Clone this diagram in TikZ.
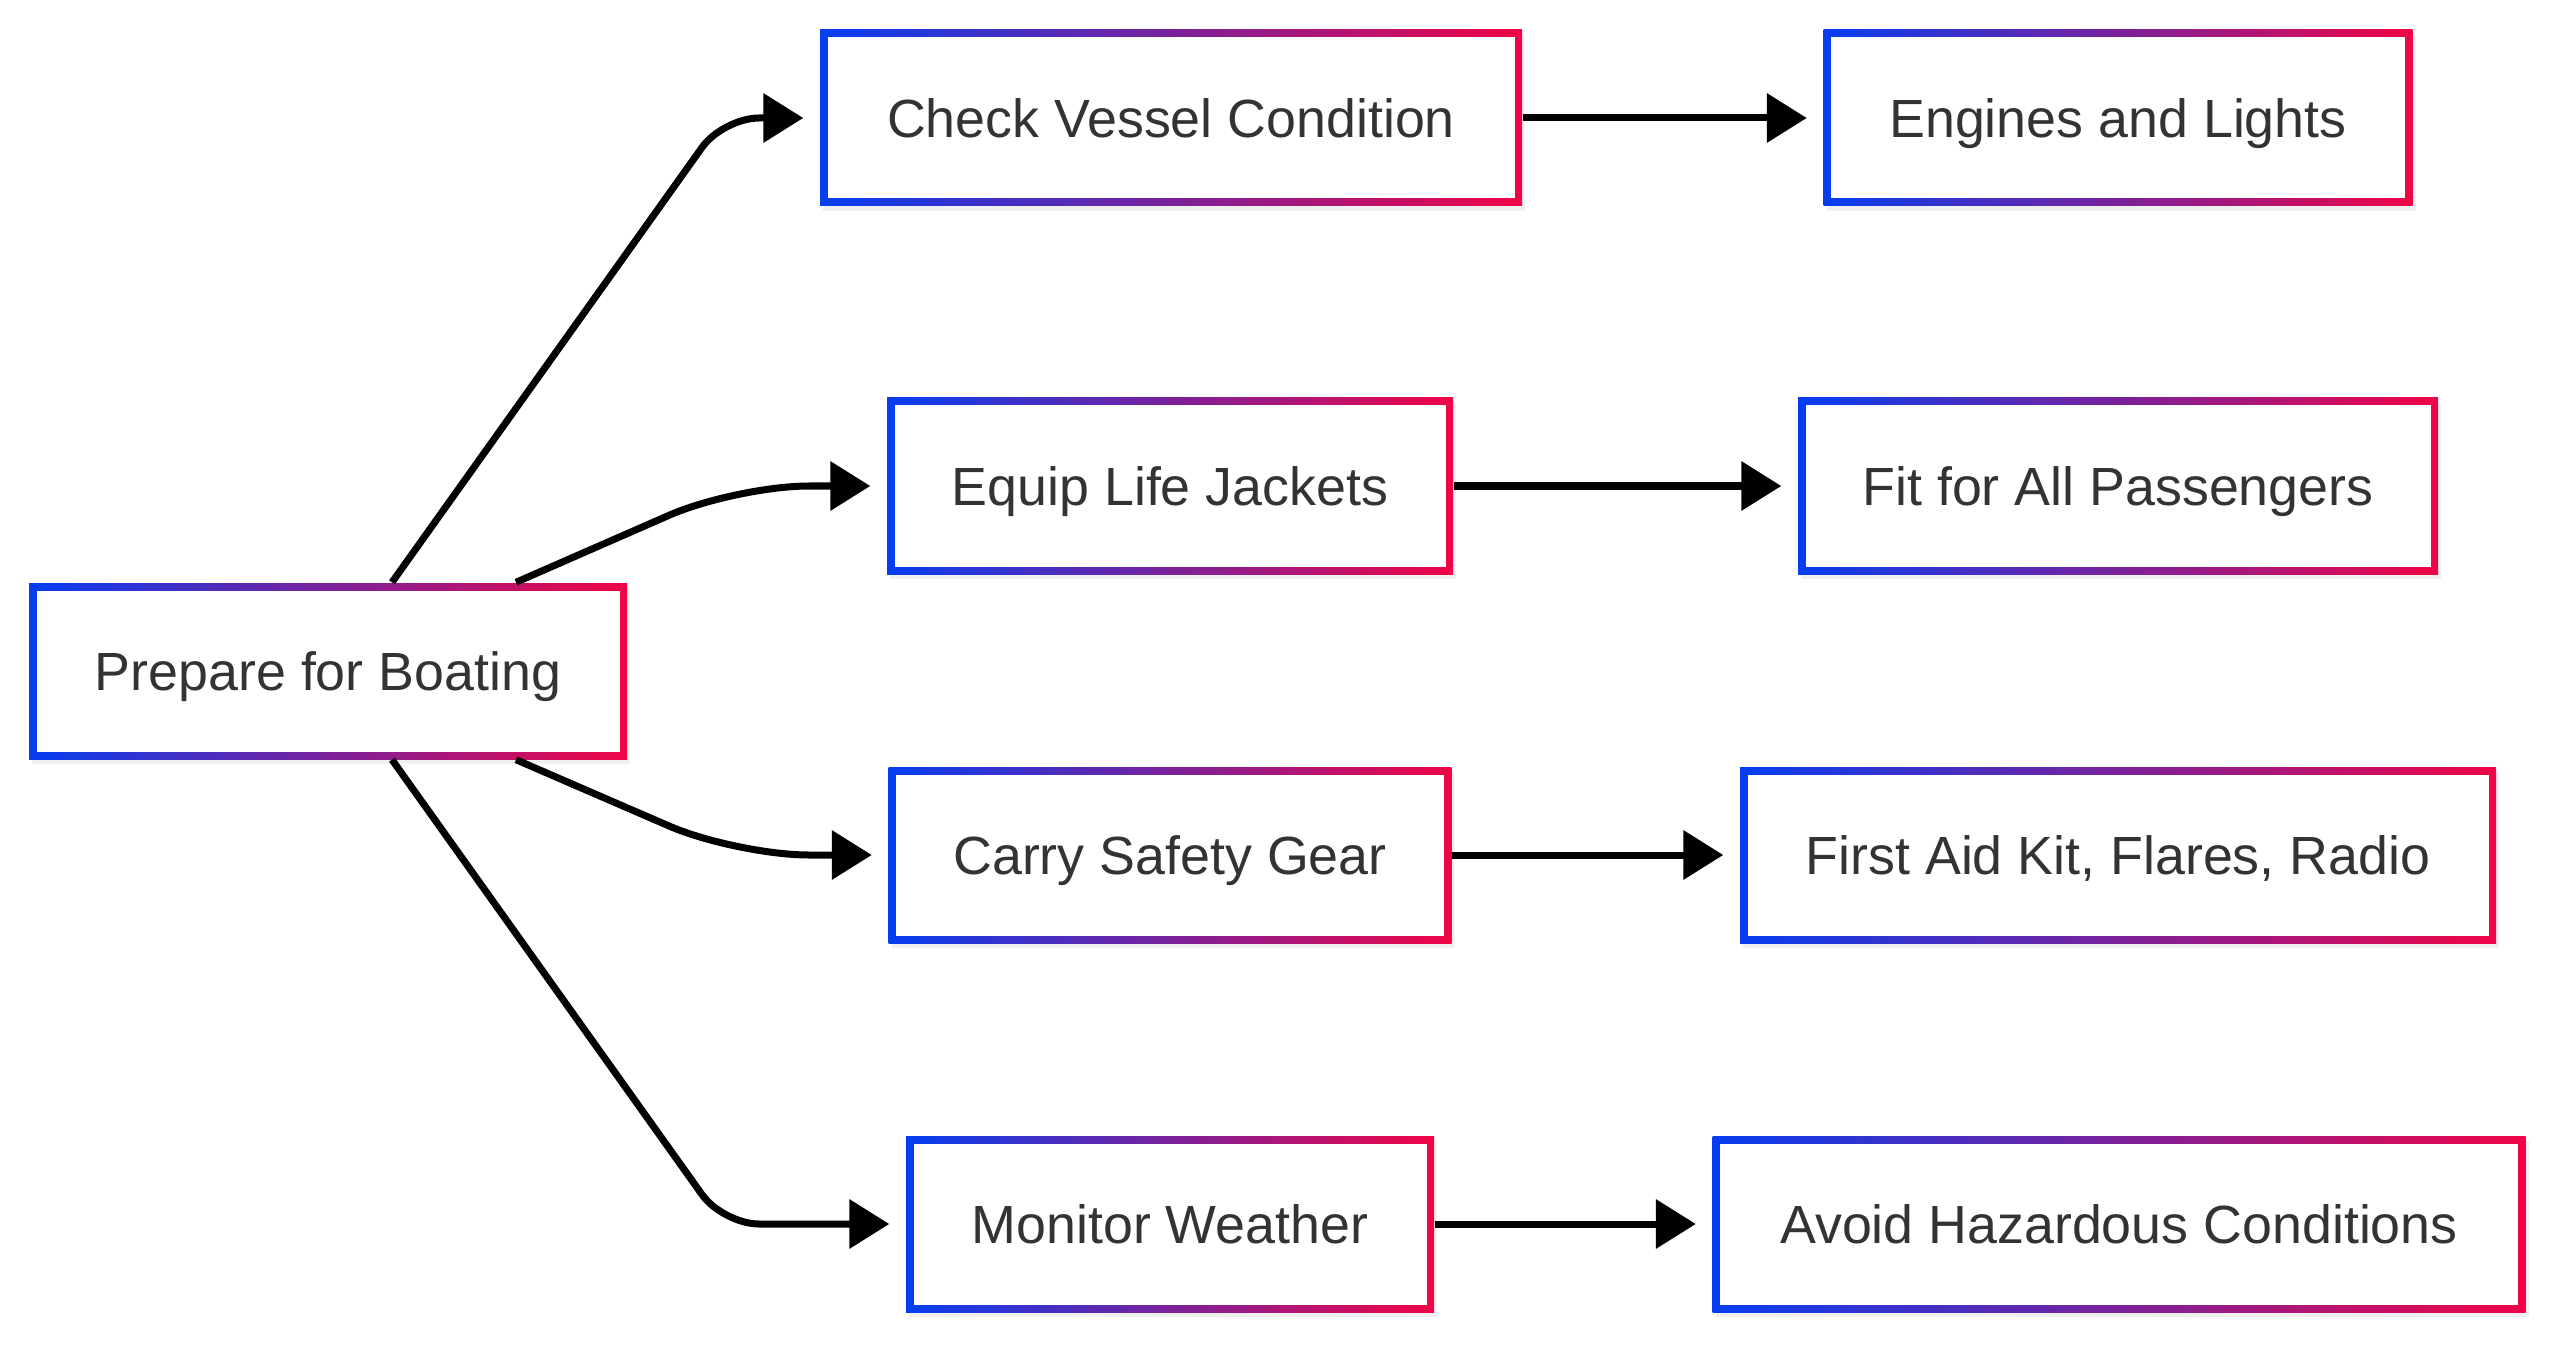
\documentclass[tikz,border=0pt]{standalone}
\usepackage{fontspec}
\setmainfont{Liberation Sans}
\usetikzlibrary{arrows.meta,shadows}
\definecolor{bdblue}{RGB}{5,62,240}
\definecolor{bdred}{RGB}{240,5,70}
\definecolor{txtgray}{RGB}{51,51,51}
\begin{document}
\begin{tikzpicture}[
  box/.style={rectangle, minimum height=1.76cm, inner sep=0pt,
    text height=10.95pt, text depth=0pt,
    left color=bdblue, right color=bdred,
    drop shadow={shadow xshift=0.03cm, shadow yshift=-0.05cm, opacity=0.12},
    path picture={\fill[white] ([shift={(0.075cm,0.075cm)}]path picture bounding box.south west) rectangle ([shift={(-0.075cm,-0.075cm)}]path picture bounding box.north east);},
    text=txtgray, font=\fontsize{15.3}{18}\selectfont},
  link/.style={line width=0.07cm, -{Triangle[length=0.40cm,width=0.48cm]}, shorten >=0.16cm}
]
\useasboundingbox (0,0) rectangle (25.6,13.47);
\node[box, minimum width=5.98cm] (prep) at (3.28,6.76) {Prepare for Boating};
\node[box, minimum width=7.02cm] (check) at (11.71,12.29) {Check Vessel Condition};
\node[box, minimum width=5.89cm] (engines) at (21.18,12.29) {Engines and Lights};
\node[box, minimum width=5.66cm] (equip) at (11.70,8.61) {Equip Life Jackets};
\node[box, minimum width=6.40cm] (fit) at (21.18,8.61) {Fit for All Passengers};
\node[box, minimum width=5.63cm] (carry) at (11.70,4.92) {Carry Safety Gear};
\node[box, minimum width=7.56cm] (aid) at (21.18,4.92) {First Aid Kit, Flares, Radio};
\node[box, minimum width=5.28cm] (monitor) at (11.70,1.23) {Monitor Weather};
\node[box, minimum width=8.13cm] (avoid) at (21.19,1.23) {Avoid Hazardous Conditions};
\draw[link, rounded corners=0.36cm] ([xshift=0.64cm]prep.north) -- (7.23,12.29) -- (check.west);
\draw[link, rounded corners=0.73cm] ([xshift=1.88cm]prep.north) -- (7.36,8.61) -- (equip.west);
\draw[link, rounded corners=0.73cm] ([xshift=1.88cm]prep.south) -- (7.36,4.92) -- (carry.west);
\draw[link, rounded corners=0.36cm] ([xshift=0.64cm]prep.south) -- (7.23,1.23) -- (monitor.west);
\draw[link] (check) -- (engines);
\draw[link] (equip) -- (fit);
\draw[link] (carry) -- (aid);
\draw[link] (monitor) -- (avoid);
\end{tikzpicture}
\end{document}
